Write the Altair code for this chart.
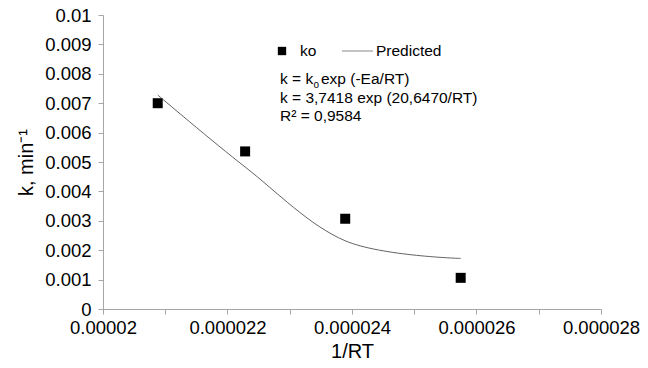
import altair as alt
import pandas as pd

# Observed rate constants against 1/RT, and the fitted (predicted) curve
inv_rt = [0.000020879, 0.000022283, 0.000023891, 0.000025746]
k_observed = [0.00700, 0.00536, 0.00307, 0.00106]
k_predicted = [0.00728, 0.00483, 0.00232, 0.00172]

x_ticks = [0.00002, 0.000021, 0.000022, 0.000023, 0.000024,
           0.000025, 0.000026, 0.000027, 0.000028]
y_ticks = [0, 0.001, 0.002, 0.003, 0.004, 0.005,
           0.006, 0.007, 0.008, 0.009, 0.01]

FONT = "Liberation Sans"
AXIS_GRAY = "#a6a6a6"

df = pd.DataFrame({"inv_rt": inv_rt, "k_obs": k_observed, "k_pred": k_predicted})

x_scale = alt.Scale(domain=[0.00002, 0.000028], nice=False, zero=False)
y_scale = alt.Scale(domain=[0, 0.01], nice=False)

x_axis = alt.Axis(
    values=x_ticks,
    labelExpr="round(datum.value * 1e6) % 2 == 0 ? format(datum.value, '.6~f') : ''",
    title="1/RT",
    grid=False,
    domainColor=AXIS_GRAY,
    tickColor=AXIS_GRAY,
    tickSize=5,
    labelPadding=4,
    labelFontSize=18.5,
    labelFont=FONT,
    labelColor="#000",
    labelOverlap=False,
    labelFlush=False,
    titleFont=FONT,
    titleFontSize=20,
    titleFontWeight="normal",
    titleColor="#000",
    titlePadding=5,
)

y_axis = alt.Axis(
    values=y_ticks,
    format=".3~f",
    title="k, min\u207b\u00b9",
    grid=False,
    domainColor=AXIS_GRAY,
    tickColor=AXIS_GRAY,
    tickSize=5,
    labelPadding=7,
    labelFontSize=18.5,
    labelFont=FONT,
    labelColor="#000",
    labelOverlap=False,
    labelFlush=False,
    titleFont=FONT,
    titleFontSize=20,
    titleFontWeight="normal",
    titleColor="#000",
    titlePadding=8,
)

points = alt.Chart(df).mark_point(
    shape="square", filled=True, size=100, color="#000", opacity=1
).encode(
    x=alt.X("inv_rt:Q", scale=x_scale, axis=x_axis),
    y=alt.Y("k_obs:Q", scale=y_scale, axis=y_axis),
)

curve = alt.Chart(df).mark_line(
    interpolate="cardinal", color="#3a3a3a", strokeWidth=0.8
).encode(
    x=alt.X("inv_rt:Q", scale=x_scale, axis=x_axis),
    y=alt.Y("k_pred:Q", scale=y_scale, axis=y_axis),
)


def label(text, x, y, size=15.5):
    return alt.Chart(pd.DataFrame({"t": [text]})).mark_text(
        align="left", baseline="middle", font=FONT, fontSize=size, color="#000"
    ).encode(x=alt.value(x), y=alt.value(y), text="t:N")


# Legend, drawn by hand
legend_square = alt.Chart(pd.DataFrame({"s": ["ko"]})).mark_point(
    shape="square", filled=True, size=70, color="#000", opacity=1
).encode(x=alt.value(179), y=alt.value(36))
legend_line = alt.Chart(pd.DataFrame({"s": ["Predicted"]})).mark_rule(
    color="#888", strokeWidth=1
).encode(x=alt.value(239), x2=alt.value(270), y=alt.value(36))

chart = alt.layer(
    points,
    curve,
    legend_square,
    label("ko", 197, 36),
    legend_line,
    label("Predicted", 273, 36),
    # model equation, with the subscript of k_o set smaller and lower
    label("k = k", 177, 64),
    label("o", 210.5, 69.5, size=10),
    label("exp (-Ea/RT)", 218, 64),
    label("k = 3,7418 exp (20,6470/RT)", 177, 82.5),
    label("R\u00b2 = 0,9584", 177, 101),
).properties(
    width=498,
    height=294,
    autosize=alt.AutoSizeParams(type="none"),
    padding={"left": 103, "top": 15, "right": 47, "bottom": 59},
    background="white",
).configure_view(stroke=None)

chart.save("out.html", embed_options={"renderer": "svg", "actions": False})
